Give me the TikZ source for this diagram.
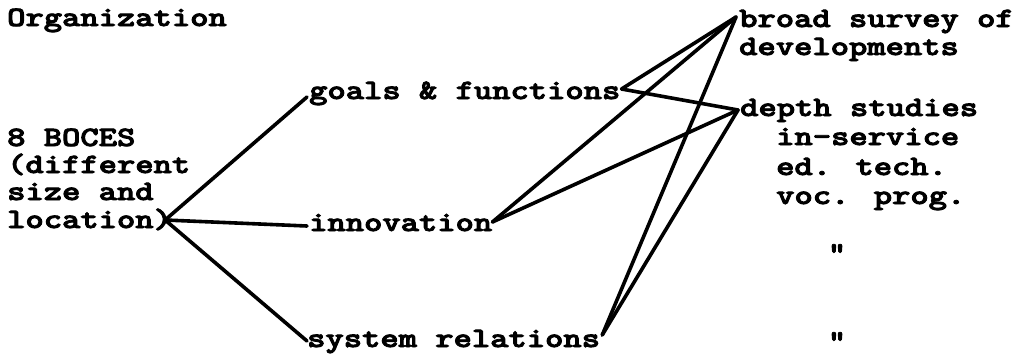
\documentclass[tikz,border=0pt]{standalone}
\usepackage{graphicx}
\newcommand\tws[1]{\special{pdf:literal direct 2 Tr 0.8 w}\scalebox{1.245}[1]{#1}\special{pdf:literal direct 0 Tr}}
\begin{document}
\begin{tikzpicture}[x=1pt,y=-1pt,
  txt/.style={anchor=base west,inner sep=0pt,font=\ttfamily\bfseries\fontsize{28}{28}\selectfont},
  link/.style={line width=3.6pt,line cap=round}]
\useasboundingbox (0,0) rectangle (1032,354);
% left block
\node[txt] (org) at (7,26) {\tws{Organization}};
\node[txt] (b1) at (7,146) {\tws{8 BOCES}};
\node[txt] (b2) at (7,173) {\tws{(different}};
\node[txt] (b3) at (7,200) {\tws{size and}};
\node[txt] (b4) at (7,228) {\tws{location)}};
% middle
\node[txt] (gf) at (309,99) {\tws{goals \& functions}};
\node[txt] (inn) at (309,231) {\tws{innovation}};
\node[txt] (sr) at (307,347) {\tws{system relations}};
% right
\node[txt] (bs1) at (739,27) {\tws{broad survey of}};
\node[txt] (bs2) at (739,55) {\tws{developments}};
\node[txt] (ds1) at (740,116) {\tws{depth studies}};
\node[txt] (ds2) at (776,145) {\tws{in-service}};
\node[txt] (ds3) at (776,175) {\tws{ed. tech.}};
\node[txt] (ds4) at (776,204) {\tws{voc. prog.}};
\node[txt,anchor=north] (dit1) at (837,244) {\tws{"}};
\node[txt,anchor=north] (dit2) at (837,332) {\tws{"}};
% connection points
\coordinate (hub) at ([xshift=-7pt,yshift=8pt]b4.base east);
\coordinate (gfw) at ([xshift=-2pt,yshift=2pt]gf.base west);
\coordinate (innw) at ([xshift=-2pt,yshift=5pt]inn.base west);
\coordinate (srw) at ([xshift=0pt,yshift=6pt]sr.base west);
\coordinate (gfe) at ([xshift=1pt,yshift=10pt]gf.base east);
\coordinate (inne) at ([xshift=0pt,yshift=9pt]inn.base east);
\coordinate (sre) at ([xshift=2pt,yshift=12pt]sr.base east);
\coordinate (bsw) at ([xshift=-3pt,yshift=10pt]bs1.base west);
\coordinate (dsw) at ([xshift=-2pt,yshift=6pt]ds1.base west);
% connectors
\draw[link] (hub) -- (gfw);
\draw[link] (hub) -- (innw);
\draw[link] (hub) -- (srw);
\draw[link] (gfe) -- (bsw);
\draw[link] (gfe) -- (dsw);
\draw[link] (inne) -- (bsw);
\draw[link] (inne) -- (dsw);
\draw[link] (sre) -- (bsw);
\draw[link] (sre) -- (dsw);
\end{tikzpicture}
\end{document}
